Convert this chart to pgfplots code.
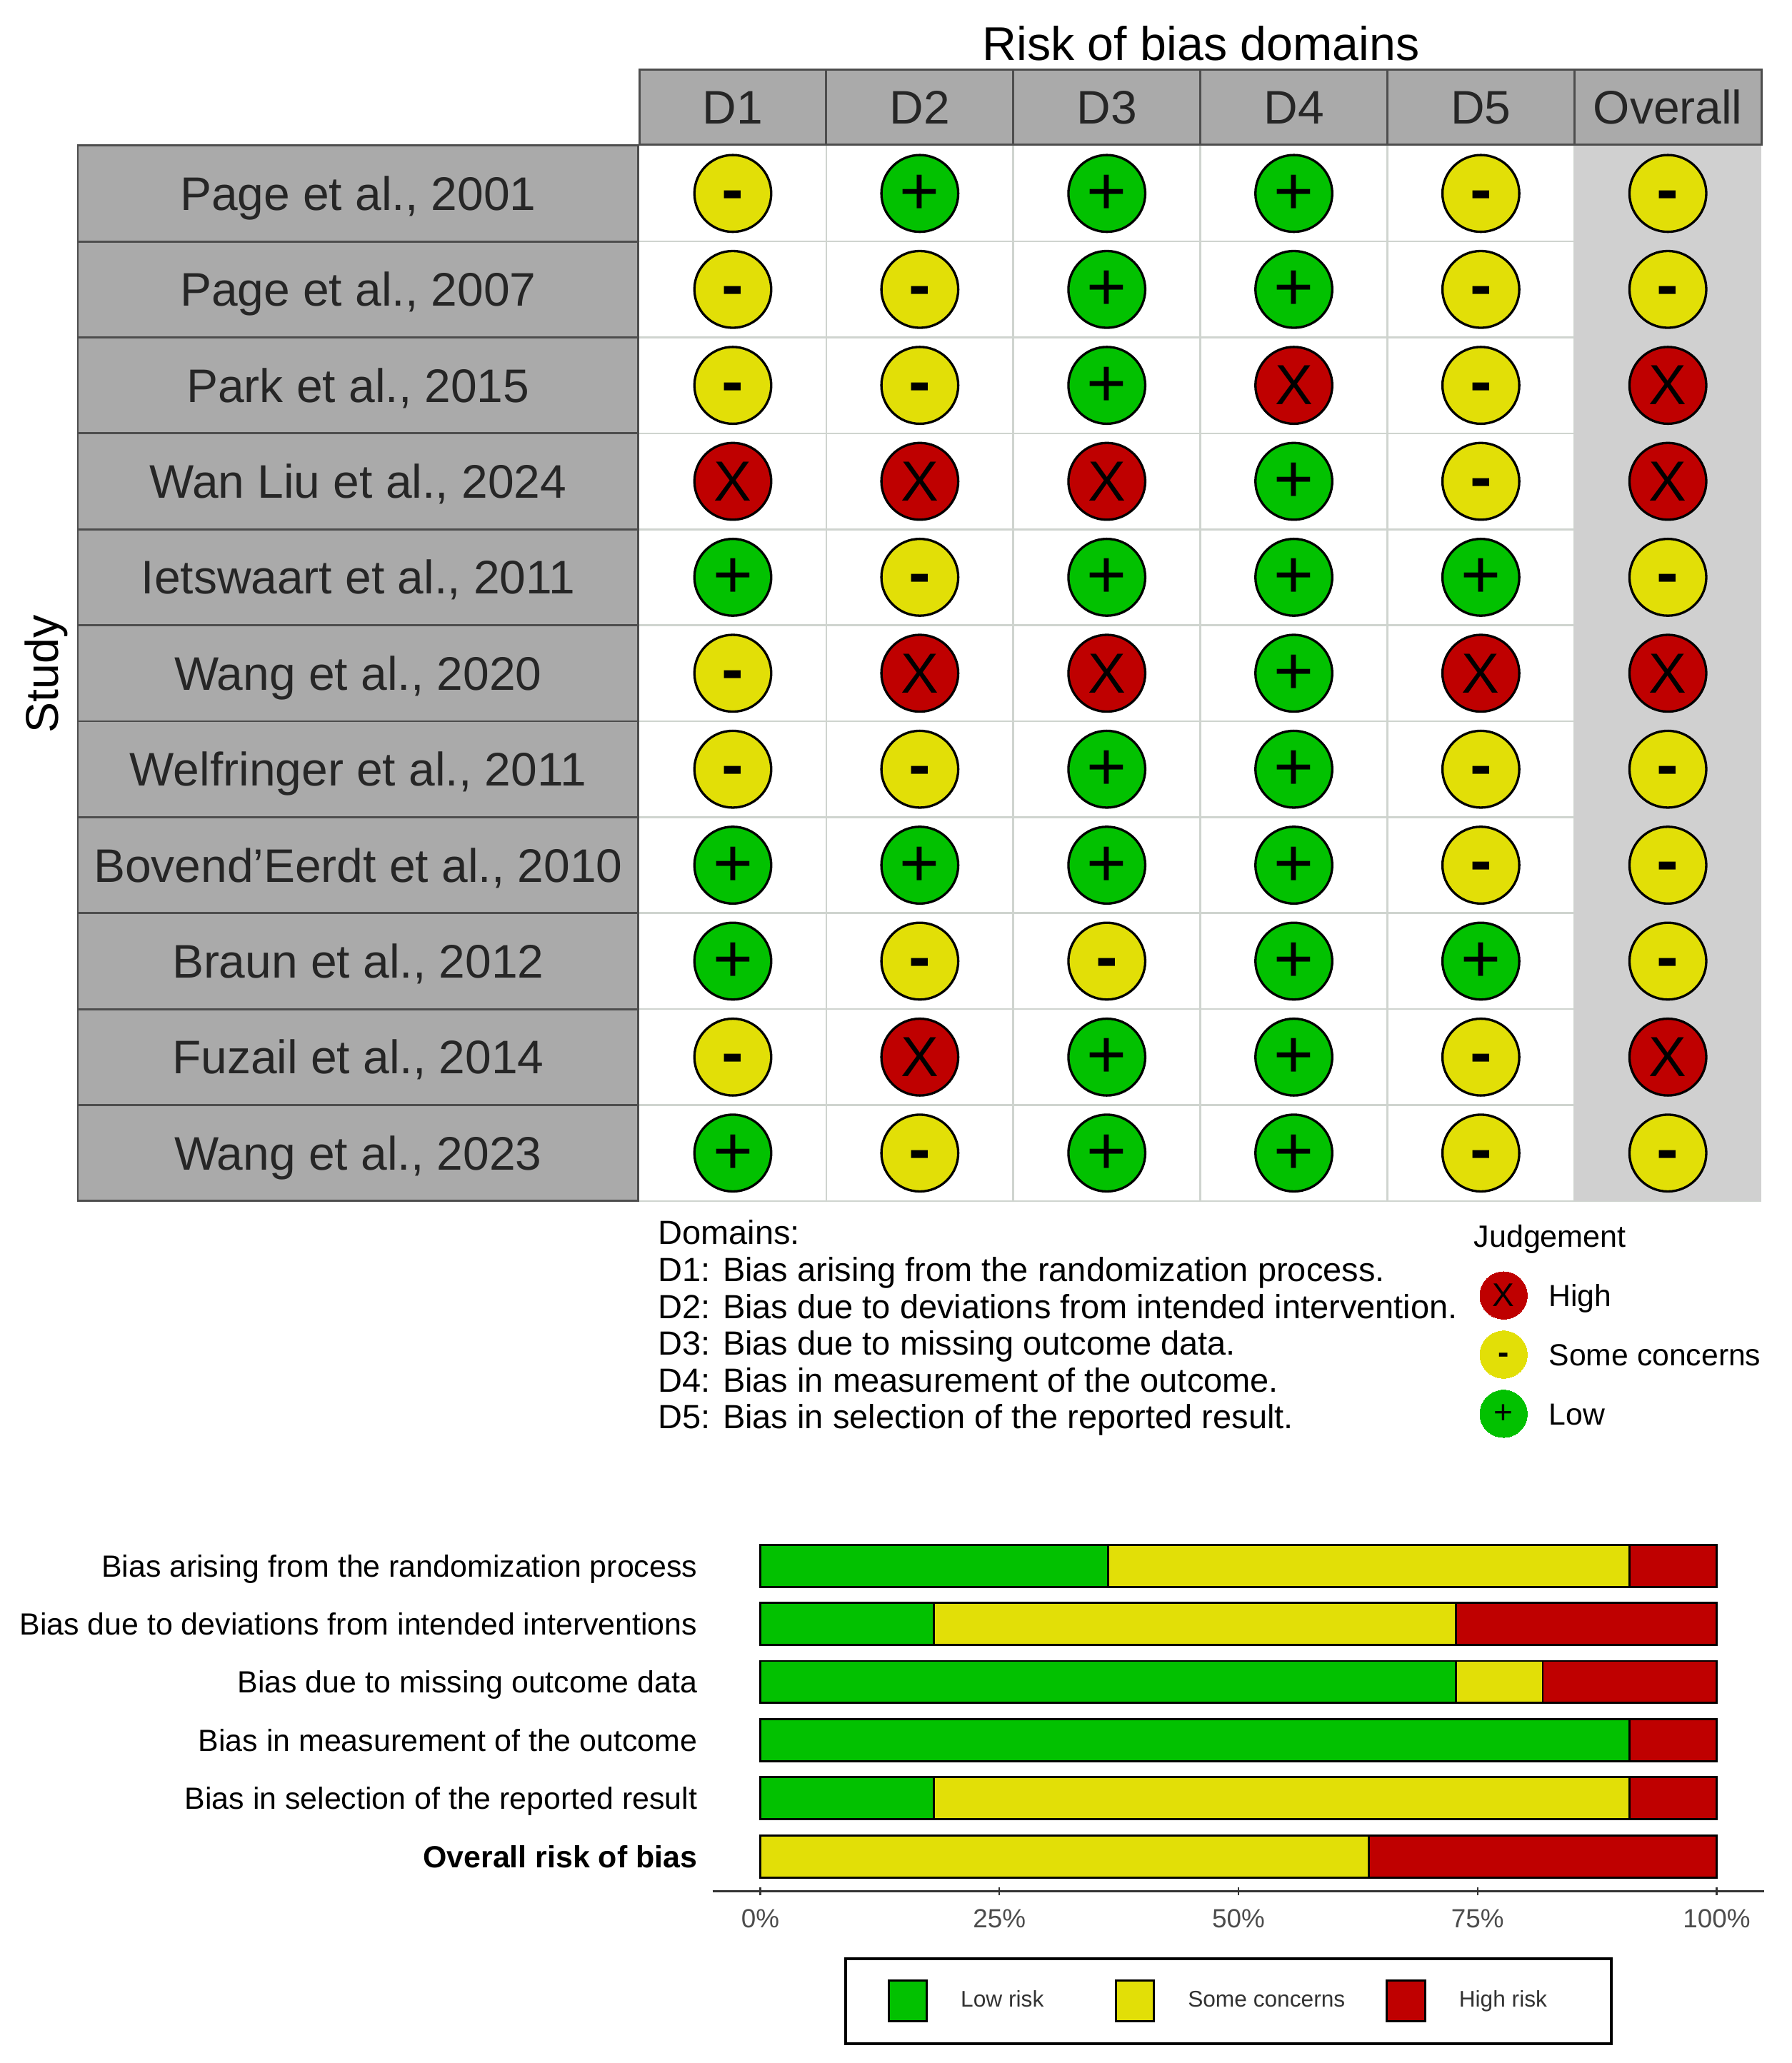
\documentclass[border=0pt]{standalone}
\usepackage{fontspec}
\setmainfont{Liberation Sans}
\usepackage{pgfplots}
\pgfplotsset{compat=1.18}
\usepackage{pgfplotstable}

\definecolor{rlow}{HTML}{02C100}
\definecolor{rsome}{HTML}{E2DF07}
\definecolor{rhigh}{HTML}{BF0000}
\definecolor{stripfill}{HTML}{AAAAAA}
\definecolor{stripedge}{HTML}{4D4D4D}
\definecolor{overallbg}{HTML}{D0D0D0}
\definecolor{gridc}{HTML}{CFD4CF}

% traffic light judgements: domain, study
\pgfplotstableread{
x y
2 1
3 1
4 1
3 2
4 2
3 3
4 4
1 5
3 5
4 5
5 5
4 6
3 7
4 7
1 8
2 8
3 8
4 8
1 9
4 9
5 9
3 10
4 10
1 11
3 11
4 11
}\lowtab
\pgfplotstableread{
x y
1 1
5 1
6 1
1 2
2 2
5 2
6 2
1 3
2 3
5 3
5 4
2 5
6 5
1 6
1 7
2 7
5 7
6 7
5 8
6 8
2 9
3 9
6 9
1 10
5 10
2 11
5 11
6 11
}\sometab
\pgfplotstableread{
x y
4 3
6 3
1 4
2 4
3 4
6 4
2 6
3 6
5 6
6 6
2 10
6 10
}\hightab

\pgfplotsset{
  tl/.style={only marks, mark=*, mark size=14.6pt,
    mark options={fill=#1, draw=black, line width=0.9pt},
    nodes near coords style={anchor=center, inner sep=0pt, text=black}},
  keymark/.style={only marks, mark=*, mark size=9pt, mark options={fill=#1, draw=#1, line width=0pt},
    nodes near coords style={font=\fontsize{12.5}{13}\selectfont, anchor=center, inner sep=0pt}},
}

\begin{document}
\begin{tikzpicture}
\path[use as bounding box] (0pt,-2.7pt) rectangle (680.9pt,781.6pt);

\begin{axis}[
  at={(243pt,325pt)}, anchor=south west,
  scale only axis, width=426.5pt, height=401.3pt,
  xmin=0.5, xmax=6.5, ymin=0.5, ymax=11.5,
  y dir=reverse, clip=false,
  axis line style={draw=none},
  xtick={1,...,6}, ytick={1,...,11},
  xticklabels={D1,D2,D3,D4,D5,Overall},
  yticklabels={{Page et al., 2001},{Page et al., 2007},{Park et al., 2015},{Wan Liu et al., 2024},{Ietswaart et al., 2011},{Wang et al., 2020},{Welfringer et al., 2011},{Bovend'Eerdt et al., 2010},{Braun et al., 2012},{Fuzail et al., 2014},{Wang et al., 2023}},
  xticklabel pos=top,
  major tick length=0pt, minor tick length=0pt,
  minor xtick={1.5,2.5,3.5,4.5,5.5},
  minor ytick={1.5,2.5,3.5,4.5,5.5,6.5,7.5,8.5,9.5,10.5,11.5},
  xminorgrids, yminorgrids,
  minor grid style={gridc, line width=0.7pt},
  xticklabel style={font=\fontsize{17.9}{20}\selectfont, text=black!85, fill=stripfill, draw=stripedge, line width=0.8pt,
    minimum width=71.1pt, minimum height=28.5pt, inner sep=0pt, anchor=south, text height=12.8pt, text depth=0pt},
  yticklabel style={font=\fontsize{17.9}{20}\selectfont, text=black!85, fill=stripfill, draw=stripedge, line width=0.8pt,
    minimum width=213pt, minimum height=36.48pt, inner sep=0pt, anchor=east, text height=12.8pt, text depth=0pt},
  nodes near coords={},
]
\addplot[fill=overallbg, draw=none, forget plot, nodes near coords=] coordinates {(5.5,0.5) (6.5,0.5) (6.5,11.5) (5.5,11.5)} -- cycle;
\addplot[tl=rlow, nodes near coords={\fontsize{26}{26}\selectfont +}, nodes near coords style={yshift=-0.5pt}] table[x=x,y=y] {\lowtab};
\addplot[tl=rsome, nodes near coords={\fontsize{25}{25}\selectfont\bfseries -}, nodes near coords style={yshift=-2.9pt}] table[x=x,y=y] {\sometab};
\addplot[tl=rhigh, nodes near coords={\fontsize{21.5}{22}\selectfont X}] table[x=x,y=y] {\hightab};
\end{axis}

\node[font=\fontsize{18}{21}\selectfont, anchor=center] at (456.5pt,765pt) {Risk of bias domains};
\node[font=\fontsize{17.5}{20}\selectfont, rotate=90, anchor=center] at (17.5pt,525.4pt) {Study};

\node[align=left, anchor=north west, inner sep=0pt, font=\fontsize{12.75}{14}\selectfont] at (250pt,317.85pt) {%
Domains:\\
D1: Bias arising from the randomization process.\\
D2: Bias due to deviations from intended intervention.\\
D3: Bias due to missing outcome data.\\
D4: Bias in measurement of the outcome.\\
D5: Bias in selection of the reported result.};
\node[anchor=west, inner sep=0pt, font=\fontsize{11.7}{13}\selectfont] at (560pt,310.6pt) {Judgement};

% judgement key
\begin{axis}[
  at={(560.25pt,232.85pt)}, anchor=south west,
  scale only axis, width=22.5pt, height=67.5pt,
  xmin=0, xmax=1, ymin=0, ymax=3, hide axis, clip=false,
]
\addplot[keymark=rhigh, nodes near coords={X}] coordinates {(0.5,2.5)};
\addplot[keymark=rsome, nodes near coords={\bfseries -}, nodes near coords style={yshift=-1.45pt}] coordinates {(0.5,1.5)};
\addplot[keymark=rlow, nodes near coords={+}] coordinates {(0.5,0.5)};
\node[anchor=west, inner sep=0pt, text height=8.4pt, text depth=0pt, font=\fontsize{11.6}{13}\selectfont] at (axis cs:1.256,2.5) {High};
\node[anchor=west, inner sep=0pt, text height=8.4pt, text depth=0pt, font=\fontsize{11.6}{13}\selectfont] at (axis cs:1.256,1.5) {Some concerns};
\node[anchor=west, inner sep=0pt, text height=8.4pt, text depth=0pt, font=\fontsize{11.6}{13}\selectfont] at (axis cs:1.256,0.5) {Low};
\end{axis}

% summary bars
\begin{axis}[
  at={(270.8pt,62.6pt)}, anchor=south west,
  scale only axis, width=399.85pt, height=137pt,
  xmin=-5, xmax=105, ymin=0.4, ymax=6.6,
  y dir=reverse, clip=false,
  xbar stacked, bar width=16pt,
  axis x line=bottom, axis y line=left,
  x axis line style={-, black!80, line width=0.8pt},
  y axis line style={draw=none},
  xtick={0,25,50,75,100},
  xticklabels={0\%,25\%,50\%,75\%,100\%},
  ytick={1,...,6},
  yticklabels={Bias arising from the randomization process,Bias due to deviations from intended interventions,Bias due to missing outcome data,Bias in measurement of the outcome,Bias in selection of the reported result,\textbf{Overall risk of bias}},
  ytick style={draw=none},
  xtick style={black!80, line width=0.6pt},
  major tick length=3.2pt,
  tick label style={inner sep=0pt},
  yticklabel style={font=\fontsize{11.64}{13}\selectfont, text=black, xshift=-4pt, text height=8.4pt, text depth=0pt},
  xticklabel style={font=\fontsize{10}{12}\selectfont, text=black!70, yshift=-5pt},
  legend columns=3,
  legend cell align=left,
  legend style={at={(0.4906,-0.3047)}, anchor=center, draw=black, line width=1pt,
    inner xsep=16pt, inner ysep=8pt, font=\fontsize{8.6}{10}\selectfont, text=black!80,
    nodes={inner sep=0pt},
    /tikz/column 1/.style={column sep=12.5pt},
    /tikz/column 2/.style={column sep=27pt},
    /tikz/column 3/.style={column sep=12.5pt},
    /tikz/column 4/.style={column sep=15.5pt},
    /tikz/column 5/.style={column sep=12.5pt}},
  legend image code/.code={\draw[#1, line width=0.8pt] (0pt,-7.75pt) rectangle (14.5pt,7.75pt);},
]
\addplot[fill=rlow, draw=black, line width=0.8pt] coordinates {(36.36,1) (18.18,2) (72.73,3) (90.91,4) (18.18,5) (0,6)};
\addplot[fill=rsome, draw=black, line width=0.8pt] coordinates {(54.55,1) (54.55,2) (9.09,3) (0,4) (72.73,5) (63.64,6)};
\addplot[fill=rhigh, draw=black, line width=0.8pt] coordinates {(9.09,1) (27.27,2) (18.18,3) (9.09,4) (9.09,5) (36.36,6)};
\legend{Low risk,Some concerns,High risk\rule{8.5pt}{0pt}}
\end{axis}
\end{tikzpicture}
\end{document}
